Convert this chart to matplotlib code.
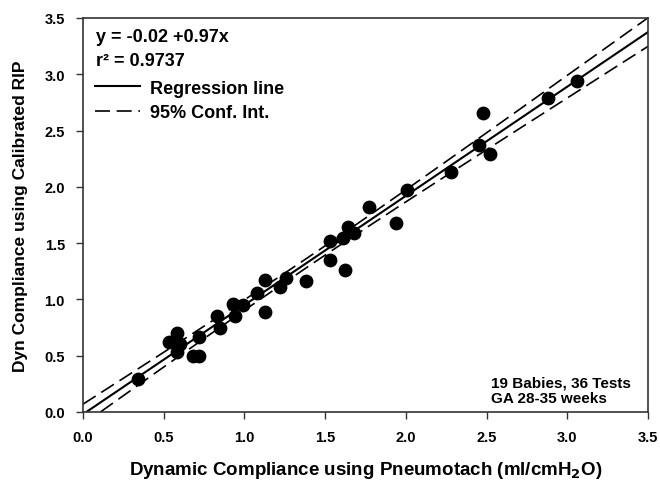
import matplotlib.pyplot as plt
import numpy as np

plt.rcParams['font.family'] = ['Liberation Sans', 'DejaVu Sans']
plt.rcParams['font.weight'] = 'bold'

pneumotach = [0.34, 0.53, 0.58, 0.60, 0.58, 0.68, 0.72, 0.72, 0.83, 0.85,
              0.93, 0.94, 0.99, 1.08, 1.13, 1.13, 1.22, 1.26, 1.38, 1.53,
              1.53, 1.61, 1.62, 1.64, 1.68, 1.77, 1.94, 2.01, 2.28, 2.45,
              2.48, 2.52, 2.88, 3.06]
rip = [0.29, 0.62, 0.70, 0.60, 0.53, 0.50, 0.50, 0.67, 0.85, 0.75,
       0.96, 0.85, 0.95, 1.06, 1.17, 0.89, 1.11, 1.19, 1.16, 1.52,
       1.35, 1.55, 1.26, 1.64, 1.59, 1.82, 1.68, 1.97, 2.13, 2.37,
       2.66, 2.29, 2.79, 2.94]

intercept = -0.02
slope = 0.97
ticks = [0.0, 0.5, 1.0, 1.5, 2.0, 2.5, 3.0, 3.5]

x = np.array(pneumotach)
y = np.array(rip)

# 95% confidence band of the regression line
xs = np.linspace(0, 3.5, 200)
fit = intercept + slope * xs
n = len(x)
resid = y - (intercept + slope * x)
s = np.sqrt(np.sum(resid ** 2) / (n - 2))
sxx = np.sum((x - x.mean()) ** 2)
half = 2.03 * s * np.sqrt(1 / n + (xs - x.mean()) ** 2 / sxx)

fig = plt.figure(figsize=(6.6, 4.81), dpi=100)
ax = fig.add_axes([0.1258, 0.1414, 0.8560, 0.8191])

ax.scatter(x, y, s=80, color='black', zorder=3)
reg, = ax.plot(xs, fit, color='black', lw=1.5, label='Regression line')
ci, = ax.plot(xs, fit + half, color='black', lw=1.2, dashes=(9, 4),
              label='95% Conf. Int.')
ax.plot(xs, fit - half, color='black', lw=1.2, dashes=(9, 4))

ax.set_xlim(0, 3.5)
ax.set_ylim(0, 3.5)
ax.set_xticks(ticks)
ax.set_yticks(ticks)
ax.set_xticklabels([f'{t:.1f}' for t in ticks])
ax.set_yticklabels([f'{t:.1f}' for t in ticks])
ax.tick_params(labelsize=10.5, direction='out', length=5, width=1,
               color='#333333', pad=8)
for sp in ax.spines.values():
    sp.set_color('#333333')
    sp.set_linewidth(1.2)

ax.set_xlabel('Dynamic Compliance using Pneumotach (ml/cmH$_\\mathbf{2}$O)',
              fontsize=13.5, fontweight='bold', labelpad=11)
ax.set_ylabel('Dyn Compliance using Calibrated RIP',
              fontsize=12.5, fontweight='bold', labelpad=12)

ax.text(0.023, 0.952, 'y = -0.02 +0.97x', transform=ax.transAxes,
        fontsize=13, fontweight='bold', va='center')
ax.text(0.023, 0.891, 'r² = 0.9737', transform=ax.transAxes,
        fontsize=13, fontweight='bold', va='center')
leg = ax.legend(handles=[reg, ci], loc='upper left',
                bbox_to_anchor=(0.009, 0.862), frameon=False,
                handlelength=2.5, handletextpad=0.5, labelspacing=0.42,
                borderaxespad=0.0, prop={'weight': 'bold', 'size': 13})

ax.text(0.722, 0.056, '19 Babies, 36 Tests\nGA 28-35 weeks',
        transform=ax.transAxes, fontsize=11, fontweight='bold',
        va='center', linespacing=1.15)

fig.savefig('out.png', dpi=100)
